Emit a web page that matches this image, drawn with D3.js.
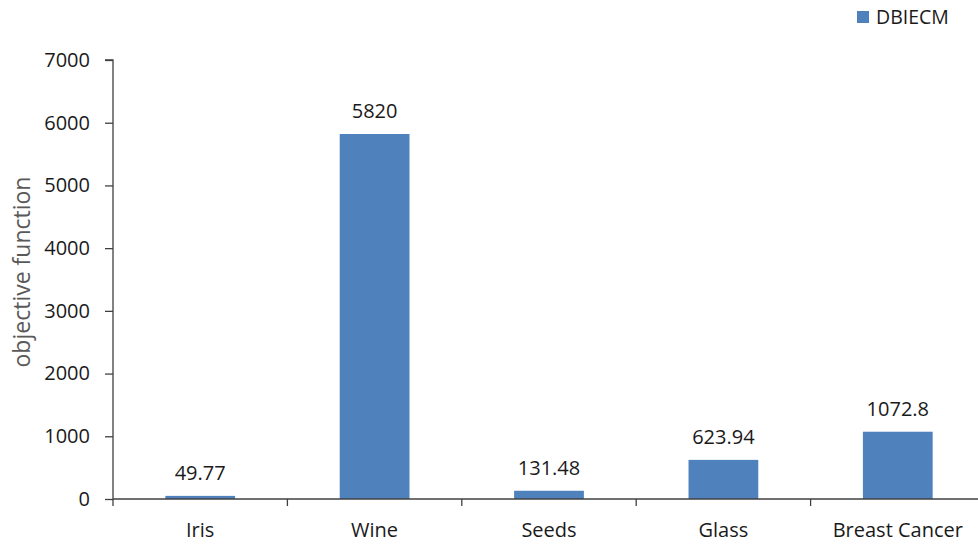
<!DOCTYPE html>
<html>
<head>
<meta charset="utf-8">
<script src="https://cdn.jsdelivr.net/npm/d3@7"></script>
<style>
  html, body { margin: 0; padding: 0; background: #fff; }
  svg text { font-family: "Open Sans", "Noto Sans", sans-serif; }
</style>
</head>
<body>
<svg id="chart" width="978" height="544"></svg>
<script>
// Objective function values per dataset
const categories = ["Iris", "Wine", "Seeds", "Glass", "Breast Cancer"];
const values = [49.77, 5820, 131.48, 623.94, 1072.8];
const valueLabels = ["49.77", "5820", "131.48", "623.94", "1072.8"];
const yTicks = [0, 1000, 2000, 3000, 4000, 5000, 6000, 7000];
const seriesName = "DBIECM";

const svg = d3.select("#chart");
const plotLeft = 113, plotRight = 985, plotTop = 60, plotBottom = 499;
const barColor = "#4f81bd";
const textColor = "#1a1a1a";
const fontSize = "20px";

const x = d3.scaleBand().domain(categories).range([plotLeft, plotRight]).paddingInner(0.6).paddingOuter(0.3);
const xb = d3.scaleBand().domain(categories).range([plotLeft, plotRight]);
const y = d3.scaleLinear().domain([0, 7000]).range([plotBottom, plotTop]);

// y axis
const yAxis = svg.append("g")
  .attr("transform", `translate(${plotLeft},0)`)
  .call(d3.axisLeft(y).tickValues(yTicks).tickSize(8).tickPadding(15).tickFormat(d3.format("d")));
yAxis.select(".domain").attr("stroke", "#404040").attr("stroke-width", 1.3).attr("d", `M-8,${plotTop}H0V${plotBottom}`);
yAxis.selectAll(".tick line").attr("stroke", "#404040").attr("stroke-width", 1.3);
yAxis.selectAll(".tick text").attr("fill", textColor).style("font-size", fontSize);

// bars
svg.append("g").selectAll("rect").data(categories).join("rect")
  .attr("x", d => x(d))
  .attr("width", x.bandwidth())
  .attr("y", (d, i) => y(values[i]))
  .attr("height", (d, i) => plotBottom - y(values[i]))
  .attr("fill", barColor);

// x axis: baseline with ticks at category boundaries
const xg = svg.append("g");
xg.append("line").attr("x1", plotLeft).attr("x2", 978).attr("y1", plotBottom).attr("y2", plotBottom)
  .attr("stroke", "#404040").attr("stroke-width", 1.3);
xg.selectAll("line.sep").data(categories).join("line").attr("class", "sep")
  .attr("x1", d => xb(d)).attr("x2", d => xb(d))
  .attr("y1", plotBottom).attr("y2", plotBottom + 7)
  .attr("stroke", "#404040").attr("stroke-width", 1.3);
xg.selectAll("text").data(categories).join("text")
  .attr("x", d => xb(d) + xb.bandwidth() / 2)
  .attr("y", 537)
  .attr("text-anchor", "middle")
  .attr("fill", textColor)
  .style("font-size", fontSize)
  .text(d => d);

// value labels
svg.append("g").selectAll("text").data(categories).join("text")
  .attr("x", d => x(d) + x.bandwidth() / 2)
  .attr("y", (d, i) => y(values[i]) - 16)
  .attr("text-anchor", "middle")
  .attr("fill", textColor)
  .style("font-size", fontSize)
  .text((d, i) => valueLabels[i]);

// y axis title
svg.append("text")
  .attr("transform", `translate(30,272) rotate(-90)`)
  .attr("text-anchor", "middle")
  .attr("fill", "#595959")
  .style("font-size", "23px")
  .text("objective function");

// legend
svg.append("rect").attr("x", 857).attr("y", 11).attr("width", 12).attr("height", 12).attr("fill", barColor);
svg.append("text").attr("x", 876).attr("y", 24).attr("fill", textColor).style("font-size", "19.5px").text(seriesName);
</script>
</body>
</html>
